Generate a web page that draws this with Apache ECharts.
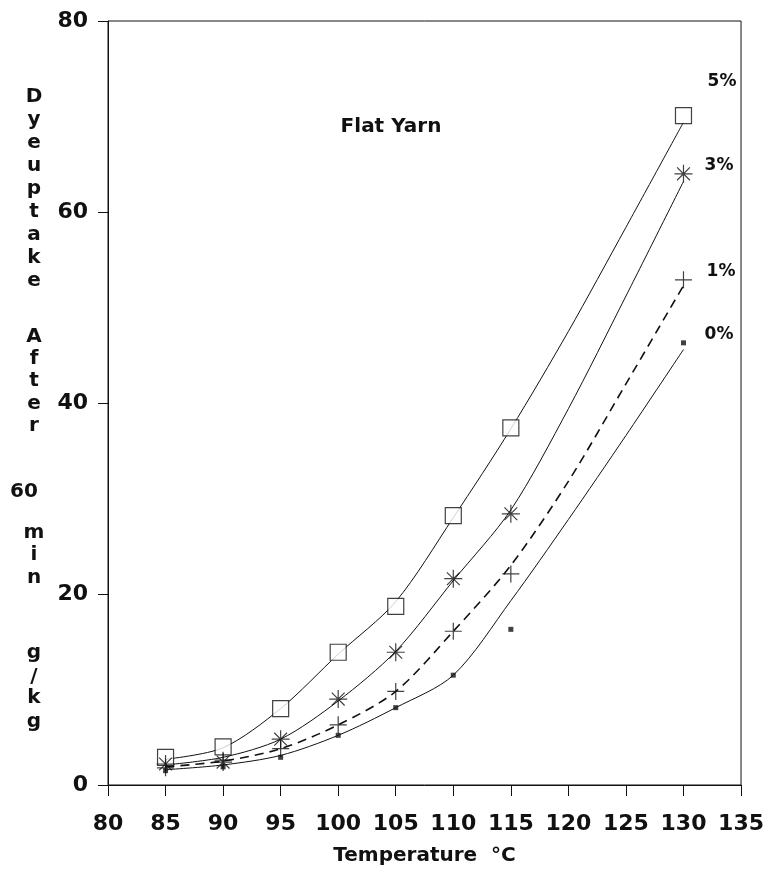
<!DOCTYPE html>
<html>
<head>
<meta charset="utf-8">
<script src="https://cdn.jsdelivr.net/npm/echarts@6/dist/echarts.min.js"></script>
<style>
    html, body { margin: 0; padding: 0; background: #fff; }
    #chart { width: 767px; height: 871px; }
</style>
</head>
<body>
<div id="chart"></div>
<script>
const temps = [85, 90, 95, 100, 105, 110, 115, 130]
const pts_5 = [2.9, 4.0, 8.0, 13.9, 18.7, 28.2, 37.4, 70.1]
const pts_3 = [2.2, 2.4, 4.8, 9.0, 13.9, 21.6, 28.4, 64.0]
const pts_1 = [1.8, 2.6, 3.8, 6.3, 9.8, 16.1, 22.1, 52.9]
const pts_0 = [1.5, 1.9, 2.9, 5.2, 8.1, 11.5, 16.3, 46.3]

// fitted curves
const fit_temps = [85, 90, 95, 100, 105, 110, 115, 120, 125, 130]
const fit_5 = [2.7, 3.9, 8.0, 13.7, 19.2, 28.0, 37.3, 47.5, 58.4, 69.4]
const fit_3 = [2.1, 2.9, 4.8, 8.8, 14.0, 21.4, 28.8, 39.4, 51.2, 63.2]
const fit_1 = [1.9, 2.5, 3.8, 6.3, 9.8, 16.1, 23.0, 31.8, 42.0, 52.3]
const fit_0 = [1.6, 2.1, 3.1, 5.2, 8.1, 11.5, 19.3, 27.8, 36.6, 45.6]

const names = ['5%', '3%', '1%', '0%']
const x_ticks = [80, 135, 5]
const y_ticks = [0, 80, 20]

const font = 'DejaVu Sans'
const ink = '#111'

const pair = (xs, ys) => xs.map((x, i) => [x, ys[i]])

const asterisk = 'path://M0,8L16,8M8,0L8,16M2.3,2.3L13.7,13.7M13.7,2.3L2.3,13.7'
const plus = 'path://M0,8L16,8M8,0L8,16'

function curve(name, fit, dashed) {
    return {
        name: name,
        type: 'line',
        data: pair(fit_temps, fit),
        smooth: 0.3,
        showSymbol: false,
        silent: true,
        lineStyle: { color: ink, width: dashed ? 1.6 : 1, type: dashed ? [9, 6] : 'solid' },
        z: 2
    }
}

function marks(name, ys, symbol, size, style) {
    return {
        name: name,
        type: 'scatter',
        data: pair(temps, ys),
        symbol: symbol,
        symbolSize: size,
        itemStyle: style,
        z: 3
    }
}

// stacked vertical axis title
const y_title = [
    ['D', 97], ['y', 120], ['e', 143], ['u', 166], ['p', 189], ['t', 212],
    ['a', 235], ['k', 258], ['e', 281],
    ['A', 337], ['f', 359], ['t', 381], ['e', 404], ['r', 426],
    ['60', 492], ['m', 533], ['i', 555], ['n', 578],
    ['g', 653], ['/', 677], ['k', 698], ['g', 722]
]

const graphic = y_title.map(([t, y]) => ({
    type: 'text',
    x: t === '60' ? 24 : 34,
    y: y,
    style: { text: t, font: `bold 20px "${font}"`, fill: ink, align: 'center', verticalAlign: 'middle' }
}))

graphic.push({
    type: 'text', x: 391, y: 127,
    style: { text: 'Flat Yarn', font: `bold 20px "${font}"`, fill: ink, align: 'center', verticalAlign: 'middle' }
})

const label_pos = [[722, 82], [719, 166], [721, 272], [719, 335]]
names.forEach((n, i) => {
    graphic.push({
        type: 'text', x: label_pos[i][0], y: label_pos[i][1],
        style: { text: n, font: `bold 17px "${font}"`, fill: ink, align: 'center', verticalAlign: 'middle' }
    })
})

const myChart = echarts.init(document.getElementById('chart'))
const option = {
    animation: false,
    backgroundColor: '#fff',
    grid: { left: 108, right: 21, top: 21, bottom: 85, show: true, borderColor: ink, borderWidth: 1 },
    xAxis: {
        type: 'value',
        min: x_ticks[0], max: x_ticks[1], interval: x_ticks[2],
        name: 'Temperature  °C',
        nameLocation: 'middle',
        nameGap: 61,
        nameTextStyle: { fontFamily: font, fontWeight: 'bold', fontSize: 20, color: ink },
        axisLine: { lineStyle: { color: ink, width: 1 } },
        axisTick: { length: 11, lineStyle: { color: ink } },
        axisLabel: { margin: 28, fontFamily: font, fontWeight: 'bold', fontSize: 22, color: ink },
        splitLine: { show: false }
    },
    yAxis: {
        type: 'value',
        min: y_ticks[0], max: y_ticks[1], interval: y_ticks[2],
        axisLine: { show: true, lineStyle: { color: ink, width: 1 } },
        axisTick: { show: true, length: 10, lineStyle: { color: ink } },
        axisLabel: { margin: 20, fontFamily: font, fontWeight: 'bold', fontSize: 22, color: ink },
        splitLine: { show: false }
    },
    graphic: graphic,
    series: [
        curve('5%', fit_5, false),
        curve('3%', fit_3, false),
        curve('1%', fit_1, true),
        curve('0%', fit_0, false),
        marks('5%', pts_5, 'rect', 16, { color: '#fff', borderColor: ink, borderWidth: 1.2 }),
        marks('3%', pts_3, asterisk, 18, { color: 'none', borderColor: ink, borderWidth: 1.2 }),
        marks('1%', pts_1, plus, 17, { color: 'none', borderColor: ink, borderWidth: 1.2 }),
        marks('0%', pts_0, 'rect', 5, { color: ink })
    ]
}
myChart.setOption(option)
</script>
</body>
</html>
